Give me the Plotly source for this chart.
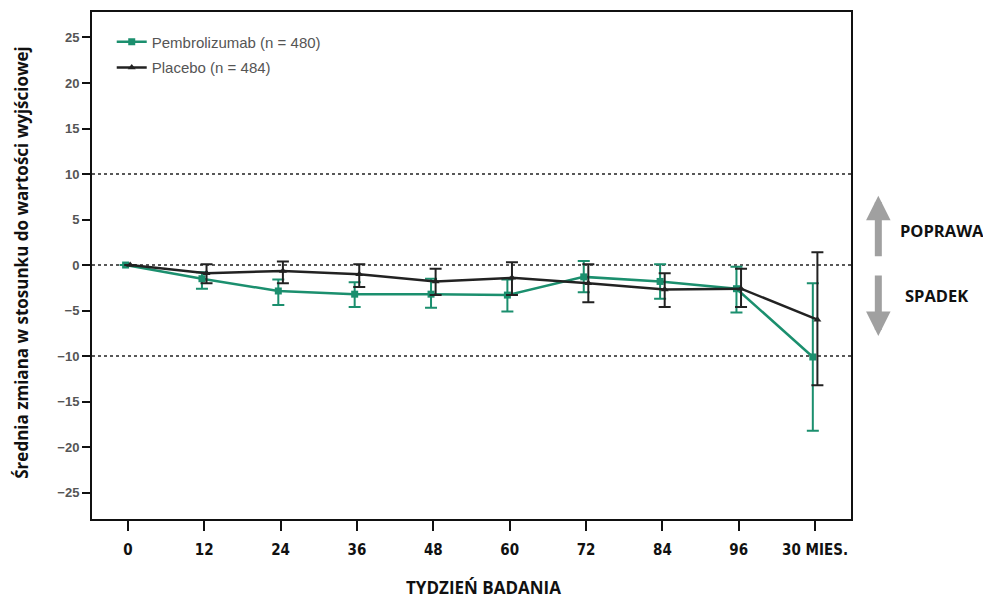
import plotly.graph_objects as go

tick_labels = ["0", "12", "24", "36", "48", "60", "72", "84", "96", "30 MIES."]
pembro_mean = [0.0, -1.5, -2.85, -3.2, -3.2, -3.3, -1.3, -1.8, -2.6, -10.1]
pembro_upper = [0.0, -0.8, -1.6, -1.9, -1.5, -1.6, 0.45, 0.1, -0.2, -2.0]
pembro_lower = [0.0, -2.6, -4.4, -4.6, -4.7, -5.1, -3.0, -3.7, -5.2, -18.2]
placebo_mean = [0.0, -0.9, -0.65, -1.0, -1.8, -1.4, -2.0, -2.7, -2.6, -6.0]
placebo_upper = [0.0, 0.1, 0.4, 0.1, -0.4, 0.3, 0.1, -0.9, -0.4, 1.4]
placebo_lower = [0.0, -2.0, -2.0, -2.4, -3.3, -3.3, -4.1, -4.6, -4.6, -13.2]

idx = list(range(len(tick_labels)))
GREEN = "#1b8f6e"
BLACK = "#222222"
TITLE_FONT = "Open Sans, Arial"

fig = go.Figure()
fig.add_trace(go.Scatter(
    x=[i - 0.03 for i in idx], y=pembro_mean, mode="lines+markers",
    name="Pembrolizumab (n = 480)", legend="legend",
    line=dict(color=GREEN, width=2.5),
    marker=dict(symbol="square", size=7, color=GREEN),
    error_y=dict(type="data", symmetric=False,
                 array=[u - m for u, m in zip(pembro_upper, pembro_mean)],
                 arrayminus=[m - l for m, l in zip(pembro_mean, pembro_lower)],
                 color=GREEN, thickness=2, width=6),
))
fig.add_trace(go.Scatter(
    x=[i + 0.03 for i in idx], y=placebo_mean, mode="lines+markers",
    name="Placebo (n = 484)", legend="legend2",
    line=dict(color=BLACK, width=2.5),
    marker=dict(symbol="triangle-up", size=7, color=BLACK),
    error_y=dict(type="data", symmetric=False,
                 array=[u - m for u, m in zip(placebo_upper, placebo_mean)],
                 arrayminus=[m - l for m, l in zip(placebo_mean, placebo_lower)],
                 color=BLACK, thickness=2, width=6),
))

for yv in [10, 0, -10]:
    fig.add_shape(type="line", xref="paper", x0=0, x1=1, yref="y", y0=yv, y1=yv,
                  line=dict(color="#222", width=1.5, dash="dot"), layer="below")

# improvement / decline arrows
fig.add_annotation(xref="paper", yref="y", x=1.036, y=7.6, ax=0, ay=62,
                   showarrow=True, arrowhead=2, arrowsize=0.7, arrowwidth=7,
                   arrowcolor="#a0a0a0", text="")
fig.add_annotation(xref="paper", yref="y", x=1.036, y=-7.8, ax=0, ay=-62,
                   showarrow=True, arrowhead=2, arrowsize=0.7, arrowwidth=7,
                   arrowcolor="#a0a0a0", text="")
fig.add_annotation(xref="paper", yref="y", x=1.0625, y=3.85, xanchor="left",
                   showarrow=False, text="<b>POPRAWA</b>",
                   font=dict(size=16.5, color="#111", family=TITLE_FONT))
fig.add_annotation(xref="paper", yref="y", x=1.068, y=-3.4, xanchor="left",
                   showarrow=False, text="<b>SPADEK</b>",
                   font=dict(size=16.5, color="#111", family=TITLE_FONT))

# axis titles
fig.add_annotation(xref="paper", yref="paper", x=-0.0925, y=0.507,
                   xanchor="center", yanchor="middle",
                   textangle=-90, showarrow=False,
                   text="<b>Średnia zmiana w stosunku do wartości wyjściowej</b>",
                   font=dict(size=17, color="#111", family=TITLE_FONT))
fig.add_annotation(xref="paper", yref="paper", x=0.516, y=-0.136,
                   xanchor="center", yanchor="middle",
                   showarrow=False, text="<b>TYDZIEŃ BADANIA</b>",
                   font=dict(size=17, color="#111", family=TITLE_FONT))

legend_common = dict(xanchor="left", yanchor="middle", bgcolor="rgba(0,0,0,0)",
                     font=dict(size=15, color="#555", family="Liberation Sans, Arial"))

fig.update_layout(
    width=983, height=591,
    margin=dict(l=84, r=140, t=4, b=80),
    plot_bgcolor="white", paper_bgcolor="white",
    font=dict(family="Liberation Sans, Arial", color="#333"),
    showlegend=True,
    legend=dict(x=0.026, y=0.941, **legend_common),
    legend2=dict(x=0.026, y=0.89, **legend_common),
    xaxis=dict(
        range=[-0.47, 9.47], tickmode="array", tickvals=idx, ticktext=tick_labels,
        automargin=False,
        showgrid=False, zeroline=False, showline=True, linecolor="#111",
        linewidth=2, mirror=True, ticks="outside", ticklen=10, tickwidth=2,
        tickcolor="#111", ticklabelstandoff=6,
        tickfont=dict(size=15, color="#111", weight="bold",
                      family="DejaVu Sans Condensed, Open Sans, Arial"),
    ),
    yaxis=dict(
        range=[-27.9, 27.8], tickmode="array",
        tickvals=[25, 20, 15, 10, 5, 0, -5, -10, -15, -20, -25],
        ticktext=["25", "20", "15", "10", "5", "0", "−5", "−10", "−15", "−20", "−25"],
        automargin=False,
        showgrid=False, zeroline=False, showline=True, linecolor="#111",
        linewidth=2, mirror=True, ticks="outside", ticklen=8, tickwidth=2,
        tickcolor="#111",
        tickfont=dict(size=13, color="#555", weight="bold",
                      family="Liberation Sans, Arial"),
    ),
)

fig.write_html("out.html")
